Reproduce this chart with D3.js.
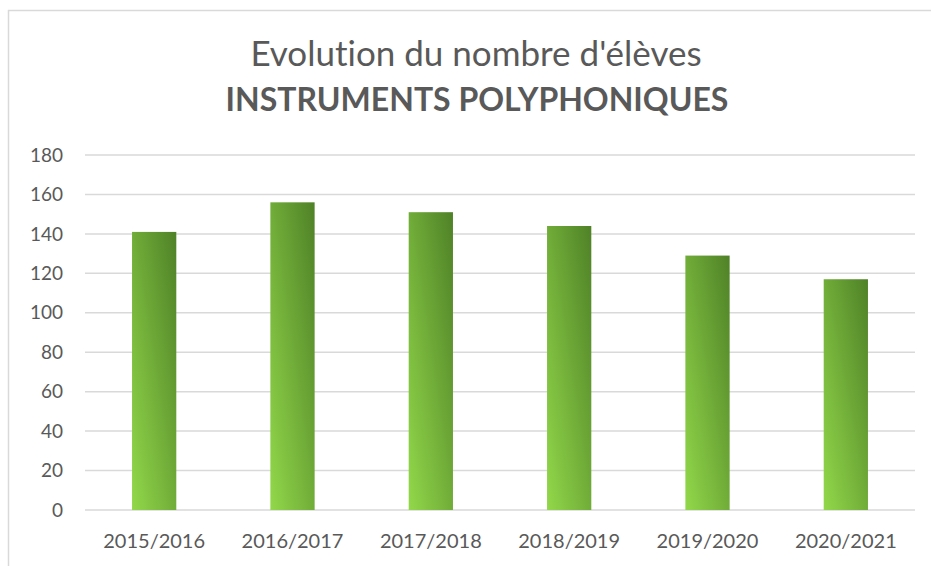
<!DOCTYPE html>
<html>
<head>
<meta charset="utf-8">
<script src="https://cdn.jsdelivr.net/npm/d3@7"></script>
<style>
  body { margin: 0; background: #fff; }
  svg { display: block; }
  text { font-family: Lato, "Open Sans", sans-serif; fill: #595959; font-variant-ligatures: none; }
</style>
</head>
<body>
<div id="chart"></div>
<script>
const years = ['2015/2016', '2016/2017', '2017/2018', '2018/2019', '2019/2020', '2020/2021']
const students = [141, 156, 151, 144, 129, 117]
const yTicks = [0, 20, 40, 60, 80, 100, 120, 140, 160, 180]

const width = 931
const height = 566
const margin = {top: 155, right: 16, bottom: 56, left: 85}

const svg = d3.select('#chart').append('svg')
    .attr('width', width)
    .attr('height', height)

// chart frame (runs off the right and bottom edge)
svg.append('rect')
    .attr('x', 8.5)
    .attr('y', 10.5)
    .attr('width', width)
    .attr('height', height)
    .attr('fill', 'none')
    .attr('stroke', '#d9d9d9')
    .attr('stroke-width', 1.5)

const grad = svg.append('defs').append('linearGradient')
    .attr('id', 'barGrad')
    .attr('x1', 0).attr('y1', 1)
    .attr('x2', 1).attr('y2', 0)
grad.append('stop').attr('offset', '0%').attr('stop-color', '#92d84a')
grad.append('stop').attr('offset', '100%').attr('stop-color', '#4f8127')

const x = d3.scaleBand()
    .domain(years)
    .range([margin.left, width - margin.right])
    .paddingInner(0.68)
    .paddingOuter(0.34)

const y = d3.scaleLinear()
    .domain([0, 180])
    .range([height - margin.bottom, margin.top])

// gridlines
svg.append('g')
    .selectAll('line')
    .data(yTicks)
    .enter().append('line')
    .attr('x1', margin.left)
    .attr('x2', width - margin.right)
    .attr('y1', d => y(d))
    .attr('y2', d => y(d))
    .attr('stroke', '#d9d9d9')
    .attr('stroke-width', 1.5)

// y labels
svg.append('g')
    .selectAll('text')
    .data(yTicks)
    .enter().append('text')
    .attr('x', 63)
    .attr('y', d => y(d))
    .attr('dy', '0.35em')
    .attr('text-anchor', 'end')
    .style('font-size', '19px')
    .text(d => d)

// bars
svg.append('g')
    .selectAll('rect')
    .data(students)
    .enter().append('rect')
    .attr('x', (d, i) => x(years[i]))
    .attr('width', x.bandwidth())
    .attr('y', d => y(d))
    .attr('height', d => y(0) - y(d))
    .attr('fill', 'url(#barGrad)')

// x labels
svg.append('g')
    .selectAll('text')
    .data(years)
    .enter().append('text')
    .attr('x', d => x(d) + x.bandwidth() / 2)
    .attr('y', 548)
    .attr('text-anchor', 'middle')
    .style('font-size', '20px')
    .text(d => d)

svg.append('text')
    .attr('x', 476)
    .attr('y', 66)
    .attr('text-anchor', 'middle')
    .style('font-size', '35px')
    .text("Evolution du nombre d'élèves")

svg.append('text')
    .attr('x', 477)
    .attr('y', 111)
    .attr('text-anchor', 'middle')
    .style('font-size', '32px')
    .style('font-weight', 'bold')
    .text('INSTRUMENTS POLYPHONIQUES')
</script>
</body>
</html>
